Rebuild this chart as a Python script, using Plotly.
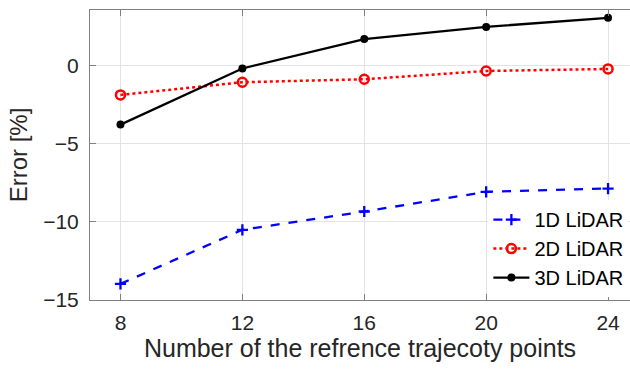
import plotly.graph_objects as go

x_points = [8, 12, 16, 20, 24]
err_1d = [-13.97, -10.51, -9.34, -8.08, -7.87]
err_2d = [-1.88, -1.07, -0.88, -0.35, -0.22]
err_3d = [-3.78, -0.19, 1.69, 2.47, 3.05]
x_ticks = [8, 12, 16, 20, 24]
y_ticks = [-15, -10, -5, 0]
y_tick_text = ["\u221215", "\u221210", "\u22125", "0"]

fig = go.Figure()
fig.add_trace(go.Scatter(x=x_points, y=err_1d, name="1D LiDAR", mode="lines+markers",
                         line=dict(color="#0000ff", width=2.3, dash="dash"),
                         marker=dict(symbol="cross-thin", size=8, line=dict(color="#0000ff", width=2.3))))
fig.add_trace(go.Scatter(x=x_points, y=err_2d, name="2D LiDAR", mode="lines+markers",
                         line=dict(color="#ff0000", width=2.5, dash="dot"),
                         marker=dict(symbol="circle-open", size=9, color="#ff0000", line=dict(color="#ff0000", width=2.5))))
fig.add_trace(go.Scatter(x=x_points, y=err_3d, name="3D LiDAR", mode="lines+markers",
                         line=dict(color="#000000", width=2.3),
                         marker=dict(symbol="circle", size=8, color="#000000")))

fig.update_layout(
    width=630, height=369,
    margin=dict(l=90, r=0, t=10, b=69),
    paper_bgcolor="white", plot_bgcolor="white",
    font=dict(family="Liberation Sans, Arial, sans-serif", color="#262626", size=21),
    showlegend=True,
    legend=dict(x=0.997, y=0.01, xanchor="right", yanchor="bottom",
                bgcolor="white", borderwidth=0, font=dict(size=20, color="#000"),
                tracegroupgap=0, itemwidth=36),
    xaxis=dict(range=[7, 24.72], tickmode="array", tickvals=x_ticks,
               showgrid=True, gridcolor="#e3e3e3", gridwidth=1,
               showline=True, linecolor="#808080", linewidth=1, mirror="ticks",
               ticks="inside", ticklen=6, tickcolor="#808080", zeroline=False,
               automargin=False, ticklabelstandoff=4,
               title=dict(text="Number of the refrence trajecoty points", font=dict(size=25), standoff=6),
               tickfont=dict(size=21)),
    yaxis=dict(range=[-15, 3.55], tickmode="array", tickvals=y_ticks, ticktext=y_tick_text,
               showgrid=True, gridcolor="#e3e3e3", gridwidth=1,
               showline=True, linecolor="#808080", linewidth=1, mirror=False,
               ticks="inside", ticklen=6, tickcolor="#808080", zeroline=False,
               automargin=False, ticklabelstandoff=6,
               title=dict(text="Error [%]", font=dict(size=24), standoff=8),
               tickfont=dict(size=21)),
)

fig.write_html("out.html")
